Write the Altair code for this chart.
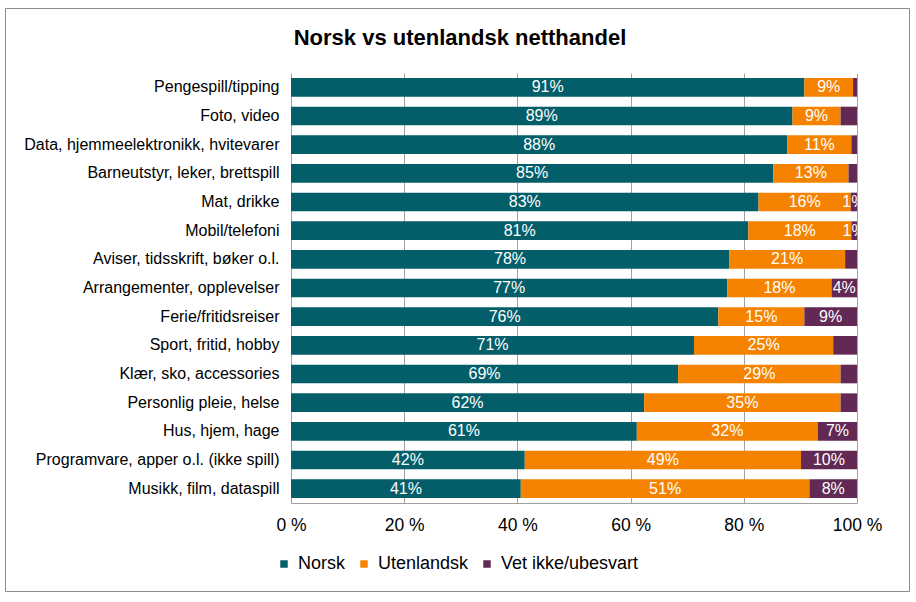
import altair as alt
import pandas as pd

categories = [
    "Pengespill/tipping",
    "Foto, video",
    "Data, hjemmeelektronikk, hvitevarer",
    "Barneutstyr, leker, brettspill",
    "Mat, drikke",
    "Mobil/telefoni",
    "Aviser, tidsskrift, bøker o.l.",
    "Arrangementer, opplevelser",
    "Ferie/fritidsreiser ",
    "Sport, fritid, hobby",
    "Klær, sko, accessories",
    "Personlig pleie, helse ",
    "Hus, hjem, hage",
    "Programvare, apper o.l. (ikke spill)",
    "Musikk, film, dataspill",
]
norsk = [90.7, 88.6, 87.7, 85.2, 82.6, 80.8, 77.4, 77.1, 75.5, 71.2, 68.4, 62.4, 61.1, 41.3, 40.6]
utenlandsk = [8.6, 8.5, 11.3, 13.3, 16.3, 18.2, 20.5, 18.4, 15.2, 24.6, 28.7, 34.7, 32.0, 48.8, 51.0]
vet_ikke = [0.7, 2.9, 1.0, 1.5, 1.1, 1.0, 2.1, 4.5, 9.3, 4.2, 2.9, 2.9, 6.9, 9.9, 8.4]
norsk_labels = ["91%", "89%", "88%", "85%", "83%", "81%", "78%", "77%", "76%", "71%", "69%", "62%", "61%", "42%", "41%"]
utenlandsk_labels = ["9%", "9%", "11%", "13%", "16%", "18%", "21%", "18%", "15%", "25%", "29%", "35%", "32%", "49%", "51%"]
vet_ikke_labels = ["", "", "", "", "1%", "1%", "", "4%", "9%", "", "", "", "7%", "10%", "8%"]
series = ["Norsk", "Utenlandsk", "Vet ikke/ubesvart"]
colors = ["#035E6A", "#F58300", "#612953"]
x_ticks = [0, 20, 40, 60, 80, 100]

FONT = "Liberation Sans"
GRID = "#a0a0a0"

rows = []
for i, c in enumerate(categories):
    for j, (vals, labs) in enumerate(
        [(norsk, norsk_labels), (utenlandsk, utenlandsk_labels), (vet_ikke, vet_ikke_labels)]
    ):
        rows.append({"kategori": c, "serie": series[j], "rekkefolge": j,
                     "verdi": vals[i], "etikett": labs[i]})
df = pd.DataFrame(rows)

base = alt.Chart(df).transform_stack(
    stack="verdi", groupby=["kategori"], sort=[alt.SortField("rekkefolge")], as_=["x0", "x1"]
).transform_calculate(midt="(datum.x0 + datum.x1) / 2")

x_scale = alt.Scale(domain=[0, 100], nice=False, zero=True)
y_enc = alt.Y(
    "kategori:N", sort=categories,
    scale=alt.Scale(paddingInner=0.35, paddingOuter=0.175),
    axis=alt.Axis(title=None, labelFont=FONT, labelFontSize=16, labelColor="black",
                  labelPadding=12, ticks=False, tickSize=0, domain=False, grid=False,
                  labelLimit=400),
)

bars = base.mark_bar().encode(
    x=alt.X("x0:Q", scale=x_scale,
            axis=alt.Axis(values=x_ticks, labelExpr="datum.value + ' %'", title=None,
                          grid=True, gridColor=GRID, gridWidth=1, domainColor=GRID,
                          ticks=False, tickSize=0, labelFont=FONT, labelFontSize=17.5,
                          labelColor="black", labelPadding=13, labelFlush=False)),
    x2="x1:Q",
    y=y_enc,
    color=alt.Color("serie:N", scale=alt.Scale(domain=series, range=colors),
                    legend=alt.Legend(title=None, orient="none", legendX=-16, legendY=482,
                                      direction="horizontal", symbolType="square",
                                      symbolSize=56, symbolStrokeWidth=0,
                                      labelFont=FONT, labelFontSize=18, labelColor="black",
                                      labelOffset=5, columnPadding=9)),
)

texts = base.mark_text(color="white", fontSize=16, font=FONT, clip=True).encode(
    x=alt.X("midt:Q", scale=x_scale),
    y=alt.Y("kategori:N", sort=categories),
    text="etikett:N",
)

border = alt.Chart(pd.DataFrame({"ramme": [0]})).mark_rect(
    fill="white", fillOpacity=0, stroke="#8c8c8c", strokeWidth=1
).encode(x=alt.value(-285.5), x2=alt.value(618.5), y=alt.value(-64.5), y2=alt.value(518.5))

chart = alt.layer(border, bars, texts).properties(
    width=566, height=430,
    autosize=alt.AutoSizeParams(type="none"),
    padding={"left": 291, "top": 73, "right": 59, "bottom": 99},
    title=alt.TitleParams("Norsk vs utenlandsk netthandel", font=FONT, fontSize=22,
                          fontWeight="bold", color="black", anchor="middle",
                          frame="group", dx=-114, offset=0, dy=42),
).configure_view(stroke="transparent")

chart.save("out.html", embed_options={"renderer": "svg", "actions": False})
